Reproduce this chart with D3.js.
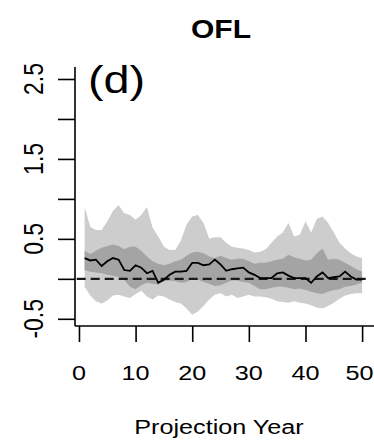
<!DOCTYPE html>
<html>
<head>
<meta charset="utf-8">
<script src="https://cdn.jsdelivr.net/npm/d3@7"></script>
<style>
  html, body { margin: 0; padding: 0; background: #fff; }
  svg { display: block; }
  text { font-family: "Liberation Sans", Arial, sans-serif; fill: #000; }
</style>
</head>
<body>
<svg id="chart" width="374" height="442"></svg>
<script>
// ---- data ----
const title = "OFL";
const panelLabel = "(d)";
const xTitle = "Projection Year";
const years = [1,2,3,4,5,6,7,8,9,10,11,12,13,14,15,16,17,18,19,20,21,22,23,24,25,26,27,28,29,30,31,32,33,34,35,36,37,38,39,40,41,42,43,44,45,46,47,48,49,50];
const median = [0.26,0.23,0.24,0.16,0.22,0.26,0.24,0.11,0.10,0.17, 0.14,0.07,0.10,-0.05,-0.01,0.05,0.09,0.09,0.10,0.20, 0.20,0.17,0.18,0.24,0.18,0.10,0.12,0.13,0.14,0.08, 0.05,0.01,0.01,0.01,0.07,0.08,0.04,0.01,0.01,0.01, -0.05,0.03,0.08,0.01,0.02,0.03,0.09,0.03,-0.01,-0.01];
const upper90 = [0.90,0.65,0.61,0.61,0.72,0.85,0.92,0.82,0.80,0.74, 0.80,0.90,0.64,0.53,0.40,0.36,0.36,0.48,0.68,0.78, 0.80,0.70,0.50,0.52,0.52,0.45,0.40,0.39,0.38,0.36, 0.33,0.34,0.37,0.45,0.53,0.58,0.70,0.53,0.55,0.72, 0.58,0.75,0.78,0.70,0.58,0.45,0.38,0.32,0.28,0.26];
const lower90 = [-0.10,-0.21,-0.28,-0.31,-0.27,-0.21,-0.20,-0.22,-0.24,-0.19, -0.15,-0.22,-0.26,-0.21,-0.22,-0.26,-0.29,-0.31,-0.37,-0.45, -0.41,-0.34,-0.26,-0.20,-0.18,-0.22,-0.20,-0.24,-0.22,-0.20, -0.22,-0.22,-0.23,-0.25,-0.28,-0.29,-0.30,-0.28,-0.30,-0.31, -0.33,-0.36,-0.37,-0.34,-0.30,-0.25,-0.21,-0.19,-0.18,-0.18];
const upper50 = [0.35,0.31,0.35,0.39,0.41,0.43,0.41,0.37,0.40,0.40, 0.35,0.28,0.22,0.19,0.17,0.19,0.22,0.24,0.29,0.33, 0.34,0.32,0.28,0.26,0.29,0.26,0.24,0.25,0.25,0.22, 0.19,0.20,0.20,0.22,0.24,0.25,0.30,0.27,0.25,0.23, 0.24,0.32,0.38,0.24,0.25,0.24,0.20,0.16,0.12,0.09];
const lower50 = [0.11,0.09,0.08,0.07,0.05,0.04,0.02,-0.01,-0.10,-0.13, -0.08,-0.05,-0.06,-0.07,-0.03,-0.02,-0.03,-0.05,-0.04,0.00, -0.01,-0.04,-0.06,-0.09,-0.08,-0.05,-0.02,-0.02,-0.04,-0.05, -0.09,-0.13,-0.13,-0.11,-0.10,-0.10,-0.11,-0.13,-0.12,-0.14, -0.16,-0.18,-0.19,-0.16,-0.14,-0.13,-0.10,-0.09,-0.07,-0.05];
const xTicks = [0,10,20,30,40,50];
const yTicks = [-0.5,0,0.5,1,1.5,2,2.5];
const yTickLabels = ["-0.5","","0.5","","1.5","","2.5"];
const refLineY = 0;
const refLineX = [-0.4, 51];

// ---- layout ----
const W = 374;
const svg = d3.select("#chart");
const SX = 1.2; // horizontal stretch of the original raster text
const x = d3.scaleLinear().domain([-0.7, 52.1]).range([75, 374]);
const y = d3.scaleLinear().domain([-0.59, 2.65]).range([326, 67]);

const rows = years.map((yr, i) => ({yr, m: median[i], u90: upper90[i], l90: lower90[i], u50: upper50[i], l50: lower50[i]}));

// bands
svg.append("path").datum(rows)
  .attr("fill", "#cdcdcd")
  .attr("d", d3.area().x(d => x(d.yr)).y0(d => y(d.l90)).y1(d => y(d.u90)));
svg.append("path").datum(rows)
  .attr("fill", "#a4a4a4")
  .attr("d", d3.area().x(d => x(d.yr)).y0(d => y(d.l50)).y1(d => y(d.u50)));

// reference dashed line
svg.append("line")
  .attr("x1", x(refLineX[0])).attr("x2", x(refLineX[1]))
  .attr("y1", y(refLineY)).attr("y2", y(refLineY))
  .attr("stroke", "#1a1a1a").attr("stroke-width", 2.2)
  .attr("stroke-dasharray", "9,5");

// median line
svg.append("path").datum(rows)
  .attr("fill", "none").attr("stroke", "#000").attr("stroke-width", 1.8)
  .attr("stroke-linejoin", "miter")
  .attr("d", d3.line().x(d => x(d.yr)).y(d => y(d.m)));

// axes (L-shaped box)
const axY = d3.axisLeft(y).tickValues(yTicks).tickSize(17).tickFormat("");
const gY = svg.append("g").attr("transform", "translate(75,0)").call(axY);
gY.select(".domain").attr("d", `M0,${y.range()[1]}V${326}`);
const axX = d3.axisBottom(x).tickValues(xTicks).tickSize(16).tickFormat("");
const gX = svg.append("g").attr("transform", "translate(0,326)").call(axX);
gX.select(".domain").attr("d", `M75,0H374`);
svg.selectAll(".domain, .tick line").attr("stroke", "#000").attr("stroke-width", 1.6);

// y tick labels (rotated)
yTicks.forEach((v, i) => {
  if (!yTickLabels[i]) return;
  svg.append("text")
    .attr("transform", `translate(42.5,${y(v)}) scale(${SX},1) rotate(-90)`)
    .attr("text-anchor", "middle")
    .attr("font-size", 23)
    .text(yTickLabels[i]);
});

// x tick labels (kept inside the picture's right edge)
xTicks.forEach(v => {
  const t = svg.append("text")
    .attr("transform", `translate(${x(v)},380) scale(${SX},1)`)
    .attr("text-anchor", "middle")
    .attr("font-size", 21)
    .text(v);
  const bb = t.node().getBBox();
  const half = bb.width * SX / 2;
  if (x(v) + half > W - 0.5) {
    t.attr("transform", `translate(${W - 0.5 - half},380) scale(${SX},1)`);
  }
});

// x axis title
svg.append("text")
  .attr("transform", `translate(219,434) scale(${SX},1)`)
  .attr("text-anchor", "middle")
  .attr("font-size", 21)
  .text(xTitle);

// title
svg.append("text")
  .attr("transform", `translate(221,38) scale(${SX},1)`)
  .attr("text-anchor", "middle")
  .attr("font-size", 25)
  .attr("font-weight", "bold")
  .text(title);

// panel label
svg.append("text")
  .attr("transform", `translate(88,93) scale(${SX},1)`)
  .attr("text-anchor", "start")
  .attr("font-size", 39)
  .text(panelLabel);
</script>
</body>
</html>
